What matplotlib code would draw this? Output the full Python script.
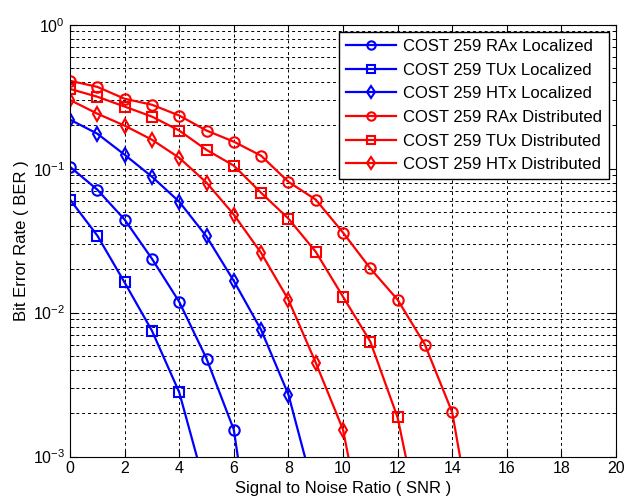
import matplotlib
matplotlib.use("Agg")
import matplotlib.pyplot as plt
from matplotlib.ticker import LogLocator, NullFormatter, FixedLocator

plt.rcParams['font.family'] = ['Liberation Sans', 'DejaVu Sans']

# BER curves vs SNR (dB)
snr_rax_loc = [0, 1, 2, 3, 4, 5, 6, 7]
ber_rax_loc = [0.103, 0.0715, 0.0443, 0.0237, 0.0119, 0.0048, 0.00154, 8e-5]

snr_tux_loc = [0, 1, 2, 3, 4, 5]
ber_tux_loc = [0.061, 0.0343, 0.0162, 0.0075, 0.0028, 5.7e-4]

snr_htx_loc = [0, 1, 2, 3, 4, 5, 6, 7, 8, 9]
ber_htx_loc = [0.219, 0.175, 0.125, 0.088, 0.059, 0.0338, 0.0166, 0.0076, 0.0027, 5.2e-4]

snr_rax_dis = [0, 1, 2, 3, 4, 5, 6, 7, 8, 9, 10, 11, 12, 13, 14, 15]
ber_rax_dis = [0.408, 0.37, 0.306, 0.278, 0.234, 0.184, 0.154, 0.123, 0.081,
               0.061, 0.036, 0.0203, 0.0123, 0.006, 0.00203, 1.7e-4]

snr_tux_dis = [0, 1, 2, 3, 4, 5, 6, 7, 8, 9, 10, 11, 12, 13]
ber_tux_dis = [0.358, 0.316, 0.27, 0.23, 0.184, 0.135, 0.105, 0.068, 0.045,
               0.0265, 0.0129, 0.0063, 0.00187, 2.3e-4]

snr_htx_dis = [0, 1, 2, 3, 4, 5, 6, 7, 8, 9, 10, 11]
ber_htx_dis = [0.30, 0.241, 0.199, 0.159, 0.119, 0.080, 0.048, 0.026, 0.0123,
               0.0045, 0.00154, 1.7e-4]

labels = ["COST 259 RAx Localized", "COST 259 TUx Localized", "COST 259 HTx Localized",
          "COST 259 RAx Distributed", "COST 259 TUx Distributed", "COST 259 HTx Distributed"]

fig = plt.figure(figsize=(6.25, 5.04), dpi=100)
ax = fig.add_axes([0.112, 0.094, 0.8736, 0.857])

series = [
    (snr_rax_loc, ber_rax_loc, 'o', 'blue'),
    (snr_tux_loc, ber_tux_loc, 's', 'blue'),
    (snr_htx_loc, ber_htx_loc, 'd', 'blue'),
    (snr_rax_dis, ber_rax_dis, 'o', 'red'),
    (snr_tux_dis, ber_tux_dis, 's', 'red'),
    (snr_htx_dis, ber_htx_dis, 'd', 'red'),
]
for (x, y, m, c), lab in zip(series, labels):
    ax.semilogy(x, y, marker=m, color=c, lw=1.6, ms=7.5, mfc='none', mew=1.5,
                label=lab)

ax.set_xlim(0, 20)
ax.set_ylim(1e-3, 1)
ax.xaxis.set_major_locator(FixedLocator(list(range(0, 21, 2))))
ax.yaxis.set_major_locator(LogLocator(base=10, numticks=10))
ax.yaxis.set_minor_locator(LogLocator(base=10, subs=range(2, 10), numticks=20))
ax.yaxis.set_minor_formatter(NullFormatter())

ax.grid(True, which='major', axis='x', color='black', ls=(0, (3, 3)), lw=0.7)
ax.grid(True, which='both', axis='y', color='black', ls=(0, (3, 3)), lw=0.7)

ax.tick_params(which='both', direction='in', top=True, right=True,
               labelsize=11.5, colors='black')
ax.tick_params(which='major', length=5)
ax.tick_params(which='minor', length=3)
for s in ax.spines.values():
    s.set_linewidth(0.8)

ax.set_xlabel("Signal to Noise Ratio ( SNR )", fontsize=12, labelpad=3)
ax.set_ylabel("Bit Error Rate ( BER )", fontsize=12, labelpad=3)

leg = ax.legend(loc='upper right', fontsize=12, fancybox=False, framealpha=1,
                edgecolor='black', borderpad=0.4, labelspacing=0.52,
                handlelength=3.0, handletextpad=0.4, borderaxespad=0.45,
                markerscale=0.8)
leg.get_frame().set_linewidth(1.0)

fig.savefig("out.png", dpi=100)
